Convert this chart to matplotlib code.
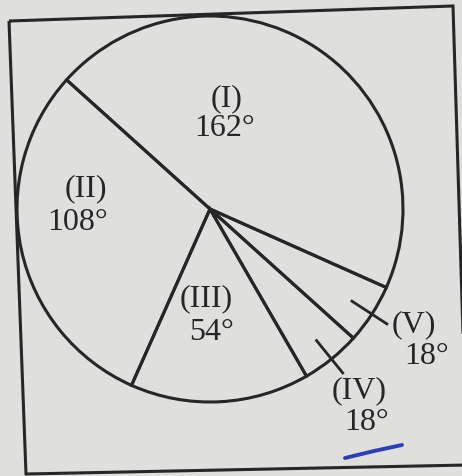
import numpy as np
import matplotlib
matplotlib.use("Agg")
import matplotlib.pyplot as plt
from matplotlib.patches import Polygon

# Sector data (degrees of the full circle)
sectors = ["(I)", "(II)", "(III)", "(IV)", "(V)"]
degrees = [162, 108, 54, 18, 18]

# Sectors whose labels sit outside the circle get a short leader tick
outside = ["(IV)", "(V)"]

W, H = 462, 476
paper = "#dfdfdd"
ink = "#262626"

fig = plt.figure(figsize=(W / 100, H / 100), dpi=100, facecolor=paper)
ax = fig.add_axes([0, 0, 1, 1])
ax.set_facecolor(paper)

cx, cy = 210, H - 209
R = 193

wedges, _ = ax.pie(
    degrees,
    startangle=-24,
    counterclock=True,
    center=(cx, cy),
    radius=R,
    wedgeprops=dict(facecolor="none", edgecolor=ink, linewidth=2.2),
)

# Leader ticks for the thin sectors, crossing the rim at the sector mid-angle
for w, name in zip(wedges, sectors):
    if name in outside:
        mid = np.deg2rad((w.theta1 + w.theta2) / 2)
        r0, r1 = 0.87 * R, 1.10 * R
        ax.plot([cx + r0 * np.cos(mid), cx + r1 * np.cos(mid)],
                [cy + r0 * np.sin(mid), cy + r1 * np.sin(mid)],
                color=ink, lw=2.0, solid_capstyle="butt")

# Label anchors (pixel layout, y measured from the top)
name_pos = [(227, 99), (86, 189), (206, 299), (359, 391), (414, 325)]
value_pos = [(225, 129), (78, 222), (212, 332), (367, 423), (427, 357)]

font = dict(family=["Liberation Serif", "DejaVu Serif"], size=23, color=ink,
            ha="center", va="center")
for name, val, (nx, ny), (vx, vy) in zip(sectors, degrees, name_pos, value_pos):
    ax.text(nx, H - ny, name, **font)
    ax.text(vx, H - vy, f"{val}\u00b0", **font)

# Slightly skewed outer frame around the figure
frame = Polygon([(9, H - 21), (453, H - 6), (467, H - 465), (26, H - 474)],
                closed=True, fill=False, edgecolor=ink, linewidth=2.2)
ax.add_patch(frame)

# Hand-drawn pen underline
ax.plot([345, 374, 402], [H - 458, H - 451, H - 445], color="#2a3fb5",
        lw=2.8, solid_capstyle="round")

ax.set_xlim(0, W)
ax.set_ylim(0, H)
ax.set_aspect("auto")
ax.axis("off")

fig.savefig("out.png", dpi=100, facecolor=paper)
